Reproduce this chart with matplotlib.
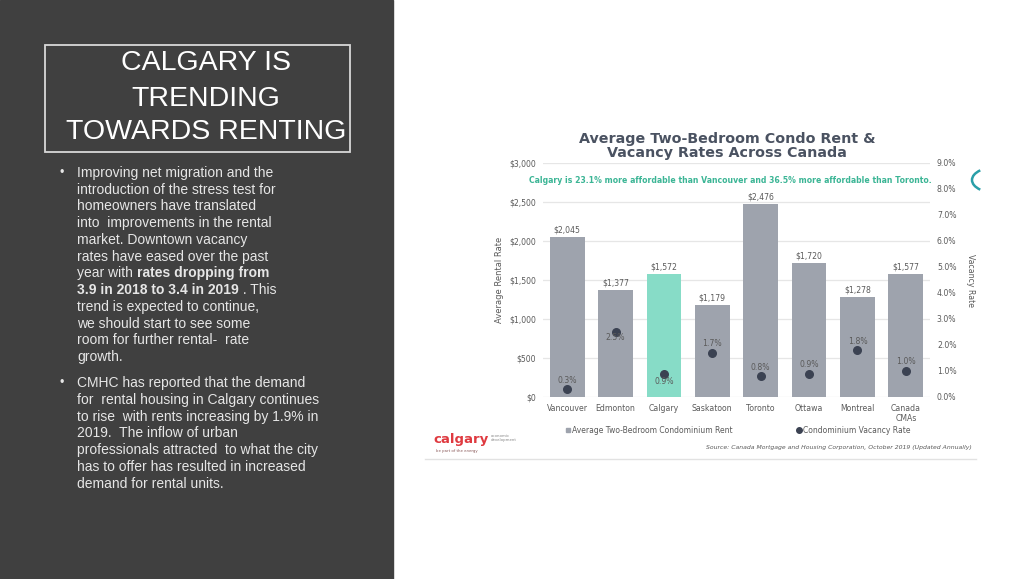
import numpy as np
import matplotlib.pyplot as plt
from matplotlib.patches import Rectangle, Arc
from matplotlib.lines import Line2D

# chart data
cities = ['Vancouver', 'Edmonton', 'Calgary', 'Saskatoon', 'Toronto', 'Ottawa', 'Montreal', 'Canada\nCMAs']
rent = [2045, 1377, 1572, 1179, 2476, 1720, 1278, 1577]
vacancy = [0.3, 2.5, 0.9, 1.7, 0.8, 0.9, 1.8, 1.0]
vac_below = [False, True, True, False, False, False, False, False]

title_lines = ['CALGARY IS', 'TRENDING', 'TOWARDS RENTING']

bullet1 = [
    [('Improving net migration and the', False)],
    [('introduction of the stress test for', False)],
    [('homeowners have translated', False)],
    [('into  improvements in the rental', False)],
    [('market. Downtown vacancy', False)],
    [('rates have eased over the past', False)],
    [('year with ', False), ('rates dropping from', True)],
    [('3.9 in 2018 to 3.4 in 2019', True), (' . This', False)],
    [('trend is expected to continue,', False)],
    [('we should start to see some', False)],
    [('room for further rental-  rate', False)],
    [('growth.', False)],
]
bullet2 = [
    [('CMHC has reported that the demand', False)],
    [('for  rental housing in Calgary continues', False)],
    [('to rise  with rents increasing by 1.9% in', False)],
    [('2019.  The inflow of urban', False)],
    [('professionals attracted  to what the city', False)],
    [('has to offer has resulted in increased', False)],
    [('demand for rental units.', False)],
]

W, H = 1030, 579
fig = plt.figure(figsize=(W / 100, H / 100), dpi=100)
fig.patch.set_facecolor('white')

# background axes in pixel units
bg = fig.add_axes([0, 0, 1, 1])
bg.set_xlim(0, W)
bg.set_ylim(H, 0)
bg.axis('off')

bg.add_patch(Rectangle((0, 0), 393, H, color='#404040', zorder=0))
bg.add_patch(Rectangle((45, 45), 305, 107, fill=False, ec='#d8d8d8', lw=1.3, zorder=1))
for y, s in zip([63, 99, 132], title_lines):
    bg.text(206, y, s, color='white', fontsize=20.5, family='Liberation Sans',
            ha='center', va='center')

def draw_lines(lines, y0):
    y = y0
    bg.text(60, y, '\u2022', color='#e6e6e6', fontsize=9, family='Liberation Sans', va='center')
    for parts in lines:
        prev = None
        for s, b in parts:
            kw = dict(color='#e6e6e6', fontsize=10, family='Liberation Sans',
                      fontweight='bold' if b else 'normal')
            if prev is None:
                prev = bg.text(77, y, s, va='center', ha='left', **kw)
            else:
                prev = bg.annotate(s, xy=(1, 0.5), xycoords=prev, va='center', ha='left', **kw)
        y += 16.75

draw_lines(bullet1, 173)
draw_lines(bullet2, 383)

# chart
txt = '#5a5a5a'
ax = fig.add_axes([543 / W, 1 - 397 / H, 387 / W, 234 / H])
ax.patch.set_visible(False)
x = np.arange(len(cities))
colors = ['#87dcc7' if c == 'Calgary' else '#9ea3ad' for c in cities]
ax.bar(x, rent, width=0.72, color=colors, zorder=2)
for xi, r in zip(x, rent):
    ax.annotate(f'${r:,}', (xi, r), xytext=(0, 7), textcoords='offset pixels',
                ha='center', va='center', fontsize=5.6, color=txt)
ax.set_xlim(-0.5, len(cities) - 0.5)
ax.set_ylim(0, 3000)
ax.set_yticks(range(0, 3001, 500))
ax.set_yticklabels([f'${v:,}' for v in range(0, 3001, 500)])
ax.set_xticks(x)
ax.set_xticklabels(cities, linespacing=1.1)
ax.tick_params(length=0, labelsize=5.6, labelcolor=txt, pad=5)
ax.grid(axis='y', color='#e6e6e6', lw=0.9, zorder=0)
for sp in ax.spines.values():
    sp.set_visible(False)
ax.set_ylabel('Average Rental Rate', fontsize=6, color=txt, labelpad=4)
ax.text(0.485, 2770, 'Calgary is 23.1% more affordable than Vancouver and 36.5% more affordable than Toronto.',
        transform=ax.get_yaxis_transform(), ha='center', va='center', fontsize=5.6,
        fontweight='bold', color='#3bb595')

ax2 = ax.twinx()
ax2.patch.set_visible(False)
ax2.scatter(x, vacancy, s=30, color='#3b4252', zorder=3)
for xi, v, below in zip(x, vacancy, vac_below):
    dy = -8 if below else 9
    if xi == 1:
        dy = -6
    ax2.annotate(f'{v:.1f}%', (xi, v), xytext=(0, dy), textcoords='offset pixels',
                 ha='center', va='center', fontsize=5.6, color=txt)
ax2.set_ylim(0, 9)
ax2.set_yticks(range(0, 10))
ax2.set_yticklabels([f'{v:.1f}%' for v in range(0, 10)])
ax2.tick_params(length=0, labelsize=5.6, labelcolor=txt, pad=5)
for sp in ax2.spines.values():
    sp.set_visible(False)
ax2.set_ylabel('Vacancy Rate', fontsize=5.6, color=txt, rotation=270, labelpad=13)

handles = [Line2D([], [], marker='s', ls='', color='#9ea3ad', markersize=2.5),
           Line2D([], [], marker='o', ls='', color='#3b4252', markersize=4)]
ax.legend(handles, ['Average Two-Bedroom Condominium Rent', 'Condominium Vacancy Rate'],
          loc='center', bbox_to_anchor=(0.503, -0.142), ncol=2, frameon=False,
          fontsize=5.5, labelcolor=txt, columnspacing=8.4, handletextpad=0.1,
          handlelength=0.8)

# overlay texts of the chart image
bg.text(727, 146, 'Average Two-Bedroom Condo Rent &\nVacancy Rates Across Canada',
        ha='center', va='center', fontsize=10.3, fontweight='bold', color='#4a5261',
        linespacing=1.05)
bg.text(972, 447, 'Source: Canada Mortgage and Housing Corporation, October 2019 (Updated Annually)',
        ha='right', va='center', fontsize=4.4, style='italic', color='#5a5a5a')
bg.text(433, 440, 'calgary', ha='left', va='center', fontsize=9.5, fontweight='bold', color='#df3a40')
bg.text(491, 438, 'economic\ndevelopment', ha='left', va='center', fontsize=2.8, color='#888888',
        linespacing=1.0)
bg.text(436, 451, 'be part of the energy', ha='left', va='center', fontsize=2.8, color='#8a5a5a')
bg.plot([425, 976], [459, 459], color='#e2e2e2', lw=1)
bg.add_patch(Arc((997, 180), 50, 26, theta1=150, theta2=210, color='#2a9fa8', lw=1.8))

fig.savefig('out.png', dpi=100, facecolor='white')
